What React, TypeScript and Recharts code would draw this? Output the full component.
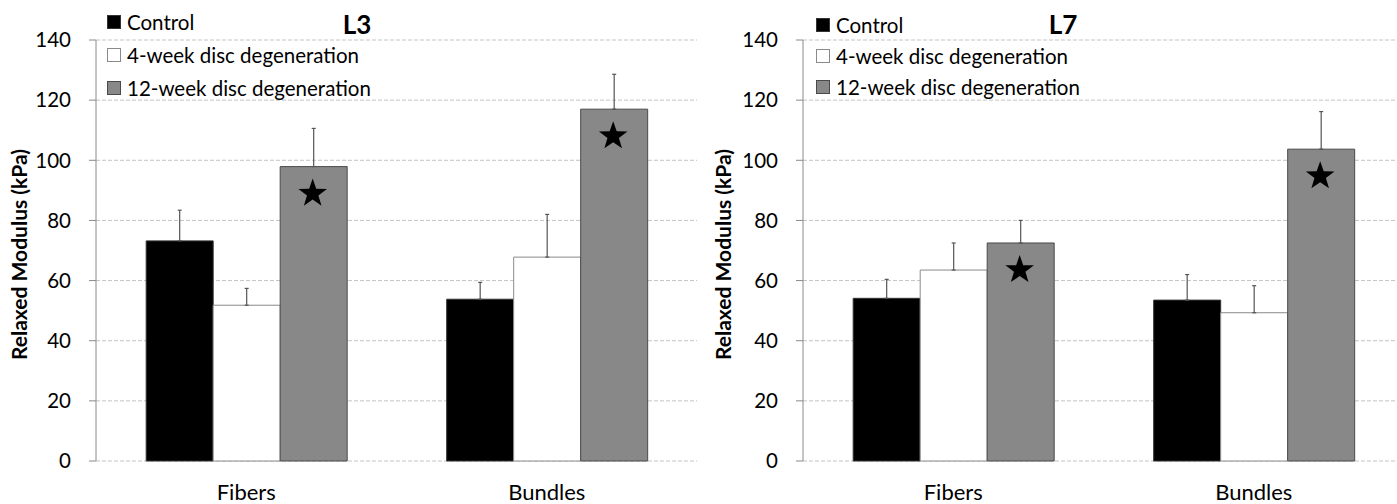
import React from 'react';
import { BarChart, Bar, XAxis, YAxis, CartesianGrid, ErrorBar, LabelList, Label, Legend } from 'recharts';

const categories = ['Fibers', 'Bundles'];
const seriesNames = ['Control', '4-week disc degeneration', '12-week disc degeneration'];
const seriesFill = ['#000000', '#ffffff', '#888888'];
const seriesStroke = ['#333333', '#8a8a8a', '#4a4a4a'];
const yTicks = [0, 20, 40, 60, 80, 100, 120, 140];
const frameTicks = [0, 1, 2];
const yTitle = 'Relaxed Modulus (kPa)';

// L3
const l3Control = [73.2, 53.8];
const l3ControlErr = [10.2, 5.6];
const l3Week4 = [51.8, 67.8];
const l3Week4Err = [5.6, 14.2];
const l3Week12 = [97.9, 117.0];
const l3Week12Err = [12.7, 11.6];
const l3Significant = [1, 1];

// L7
const l7Control = [54.1, 53.5];
const l7ControlErr = [6.3, 8.5];
const l7Week4 = [63.5, 49.3];
const l7Week4Err = [9.0, 9.0];
const l7Week12 = [72.5, 103.7];
const l7Week12Err = [7.5, 12.5];
const l7Significant = [1, 1];

const FONT = "Lato, 'Open Sans', sans-serif";

function buildRows(c: number[], cE: number[], w4: number[], w4E: number[], w12: number[], w12E: number[], sig: number[]) {
  return categories.map((name, i) => ({
    name,
    pos: i + 0.5,
    control: c[i],
    controlErr: [0, cE[i]],
    week4: w4[i],
    week4Err: [0, w4E[i]],
    week12: w12[i],
    week12Err: [0, w12E[i]],
    sig: sig[i],
  }));
}

const l3Rows = buildRows(l3Control, l3ControlErr, l3Week4, l3Week4Err, l3Week12, l3Week12Err, l3Significant);
const l7Rows = buildRows(l7Control, l7ControlErr, l7Week4, l7Week4Err, l7Week12, l7Week12Err, l7Significant);

const StarLabel = (props: any) => {
  const { x, y, width, value } = props;
  if (!value) return null;
  const cx = Number(x) + Number(width) / 2 - 1;
  const cy = Number(y) + 27;
  const outer = 15;
  const inner = 6;
  const pts: string[] = [];
  for (let k = 0; k < 10; k++) {
    const r = k % 2 === 0 ? outer : inner;
    const a = -Math.PI / 2 + (k * Math.PI) / 5;
    pts.push(`${cx + r * Math.cos(a)},${cy + r * Math.sin(a)}`);
  }
  return <polygon points={pts.join(' ')} fill="#000" />;
};

const CatTick = (props: any) => {
  const { x, y, payload } = props;
  return (
    <text x={x} y={Number(y) + 39} textAnchor="middle" fill="#000" fontSize={22} fontFamily={FONT}>
      {payload.value}
    </text>
  );
};

const makeLegend = (rowH: number) => () => (
  <div style={{ fontFamily: FONT, fontSize: 20.5, color: '#000' }}>
    {seriesNames.map((n, i) => (
      <div key={n} style={{ height: rowH, display: 'flex', alignItems: 'center', whiteSpace: 'nowrap' }}>
        <span
          style={{
            display: 'inline-block',
            width: 12,
            height: 12,
            background: seriesFill[i],
            border: `1px solid ${seriesStroke[i]}`,
            marginRight: 6,
          }}
        />
        <span>{n}</span>
      </div>
    ))}
  </div>
);

const YTitle = (props: any) => {
  const { viewBox, dxc } = props;
  const cx = viewBox.x + dxc;
  const cy = viewBox.y + viewBox.height / 2 + 4;
  return (
    <text
      x={cx}
      y={cy}
      transform={`rotate(-90, ${cx}, ${cy})`}
      textAnchor="middle"
      dominantBaseline="central"
      fontSize={21}
      fontWeight={700}
      fontFamily={FONT}
      fill="#000"
    >
      {yTitle}
    </text>
  );
};

function Panel({ rows, width, yWidth, marginRight, legendLeft, legendTop, rowH, titleDx }: any) {
  return (
    <BarChart
      width={width}
      height={504}
      data={rows}
      margin={{ top: 40, right: marginRight, left: 0, bottom: 0 }}
      barCategoryGap="16.7%"
      barGap={0}
    >
      <CartesianGrid vertical={false} stroke="#c4c4c4" strokeDasharray="4 2" />
      <XAxis
        xAxisId="frame"
        type="number"
        dataKey="pos"
        domain={[0, 2]}
        ticks={frameTicks}
        height={0}
        axisLine={{ stroke: '#8a8a8a' }}
        tickLine={{ stroke: '#8a8a8a' }}
        tickSize={7}
        tickFormatter={() => ''}
      />
      <XAxis dataKey="name" height={43} axisLine={false} tickLine={false} tickSize={0} tickMargin={0} tick={<CatTick />} interval={0} />
      <YAxis
        domain={[0, 140]}
        ticks={yTicks}
        interval={0}
        width={yWidth}
        axisLine={{ stroke: '#8a8a8a' }}
        tickLine={{ stroke: '#8a8a8a' }}
        tickSize={7}
        tickMargin={18}
        tick={{ fill: '#000', fontSize: 20.5, fontFamily: FONT }}
      >
        <Label content={(p: any) => <YTitle {...p} dxc={titleDx} />} />
      </YAxis>
      <Legend
        layout="horizontal"
        verticalAlign="middle"
        align="center"
        content={makeLegend(rowH)}
        wrapperStyle={{ position: 'absolute', left: legendLeft, top: legendTop, width: 'auto' }}
      />
      <Bar dataKey="control" name={seriesNames[0]} fill={seriesFill[0]} stroke={seriesStroke[0]} isAnimationActive={false}>
        <ErrorBar dataKey="controlErr" width={2} stroke="#555" strokeWidth={1.2} />
      </Bar>
      <Bar dataKey="week4" name={seriesNames[1]} fill={seriesFill[1]} stroke={seriesStroke[1]} isAnimationActive={false}>
        <ErrorBar dataKey="week4Err" width={2} stroke="#555" strokeWidth={1.2} />
      </Bar>
      <Bar dataKey="week12" name={seriesNames[2]} fill={seriesFill[2]} stroke={seriesStroke[2]} isAnimationActive={false}>
        <ErrorBar dataKey="week12Err" width={2} stroke="#555" strokeWidth={1.2} />
        <LabelList dataKey="sig" content={<StarLabel />} />
      </Bar>
    </BarChart>
  );
}

export default function App() {
  return (
    <div style={{ position: 'absolute', left: 0, top: 0, width: 1397, height: 504, overflow: 'hidden', background: '#fff' }}>
      <div style={{ position: 'absolute', left: 0, top: 0 }}>
        <Panel rows={l3Rows} width={700} yWidth={96} marginRight={3} legendLeft={107} legendTop={5} rowH={33.4} titleDx={18} />
      </div>
      <div style={{ position: 'absolute', left: 700, top: 0 }}>
        <Panel rows={l7Rows} width={706} yWidth={103} marginRight={2} legendLeft={116} legendTop={9} rowH={31} titleDx={22} />
      </div>
      <div style={{ position: 'absolute', left: 357, top: 24, transform: 'translate(-50%, -50%)', fontFamily: FONT, fontWeight: 700, fontSize: 26, color: '#000' }}>L3</div>
      <div style={{ position: 'absolute', left: 1063, top: 24, transform: 'translate(-50%, -50%)', fontFamily: FONT, fontWeight: 700, fontSize: 26, color: '#000' }}>L7</div>
    </div>
  );
}
